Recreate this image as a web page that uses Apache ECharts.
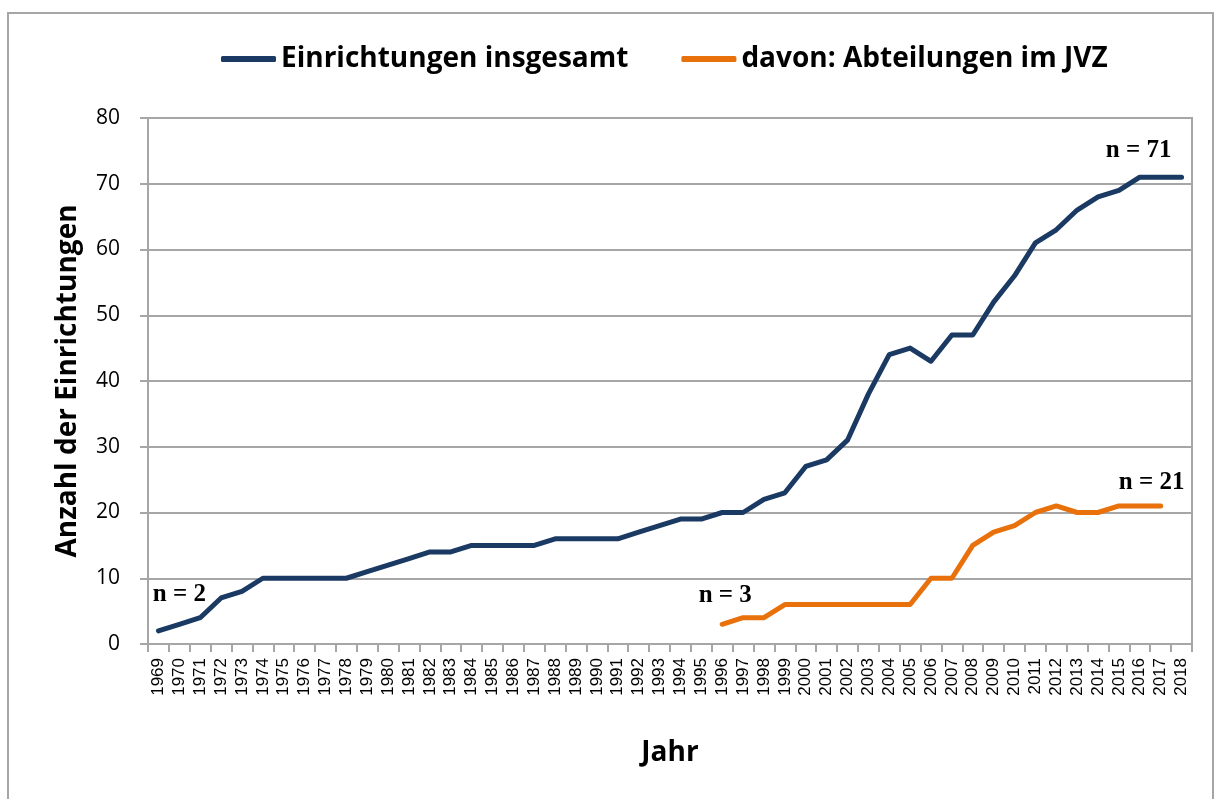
<!DOCTYPE html>
<html lang="de">
<head>
	<meta charset="UTF-8">
	<title>Einrichtungen</title>
	<style>
	body, div {
		margin: 0;
		padding: 0;
	}
	#echart {
		width: 1215px;
		height: 799px;
	}
	</style>
</head>
<body>
	<div id="echart"></div>

	<script src="https://cdn.jsdelivr.net/npm/echarts@6/dist/echarts.min.js"></script>

	<script>
	// Daten
	var years = [];
	for (var y = 1969; y <= 2018; y++) years.push(String(y));

	var gesamt = [
		2, 3, 4, 7, 8, 10, 10, 10, 10, 10,
		11, 12, 13, 14, 14, 15, 15, 15, 15, 16,
		16, 16, 16, 17, 18, 19, 19, 20, 20, 22,
		23, 27, 28, 31, 38, 44, 45, 43, 47, 47,
		52, 56, 61, 63, 66, 68, 69, 71, 71, 71
	];
	var jvz = [
		null, null, null, null, null, null, null, null, null, null,
		null, null, null, null, null, null, null, null, null, null,
		null, null, null, null, null, null, null, 3, 4, 4,
		6, 6, 6, 6, 6, 6, 6, 10, 10, 15,
		17, 18, 20, 21, 20, 20, 21, 21, 21, null
	];
	var seriesNames = ['Einrichtungen insgesamt', 'davon: Abteilungen im JVZ'];
	var yTicks = [0, 80, 10];

	var blue = '#1b3a63';
	var orange = '#e8710b';
	var boldSans = {
		fontFamily: 'Open Sans',
		fontWeight: 'bold',
		fontSize: 28,
		color: '#000'
	};
	var nStyle = {
		fontFamily: 'Liberation Serif',
		fontWeight: 'bold',
		fontSize: 25,
		color: '#000'
	};

	// Beschriftung "n = ..." an einem Datenpunkt
	function nLabel(coord, text, offset) {
		return {
			coord: coord,
			symbol: 'circle',
			symbolSize: 0,
			label: Object.assign({
				show: true,
				position: 'inside',
				offset: offset,
				formatter: text
			}, nStyle)
		};
	}

	var myEchart = echarts.init(document.getElementById('echart'));

	var option = {
		animation: false,
		graphic: [{
			type: 'rect',
			shape: { x: 8, y: 13, width: 1205, height: 800 },
			style: { fill: 'none', stroke: '#a6a6a6', lineWidth: 2 }
		}],
		legend: {
			top: 40,
			left: 216,
			itemWidth: 55,
			itemHeight: 6,
			itemGap: 53,
			icon: 'roundRect',
			textStyle: boldSans,
			data: seriesNames
		},
		grid: {
			left: 148,
			right: 23,
			top: 118,
			height: 526,
			containLabel: false,
			show: true,
			borderColor: '#a6a6a6',
			borderWidth: 2
		},
		xAxis: {
			type: 'category',
			data: years,
			boundaryGap: true,
			name: 'Jahr',
			nameLocation: 'middle',
			nameGap: 95,
			nameTextStyle: boldSans,
			axisLine: { lineStyle: { color: '#a6a6a6', width: 2 } },
			axisTick: { show: true, length: 8, lineStyle: { color: '#a6a6a6', width: 2 } },
			axisLabel: {
				interval: 0,
				rotate: 90,
				margin: 14,
				fontFamily: 'Liberation Sans',
				fontSize: 17,
				color: '#000'
			}
		},
		yAxis: {
			type: 'value',
			min: yTicks[0],
			max: yTicks[1],
			interval: yTicks[2],
			name: 'Anzahl der Einrichtungen',
			nameLocation: 'middle',
			nameGap: 66,
			nameTextStyle: boldSans,
			axisLine: { show: true, lineStyle: { color: '#a6a6a6', width: 2 } },
			axisTick: { show: true, inside: false, length: 8, lineStyle: { color: '#a6a6a6', width: 2 } },
			splitLine: { lineStyle: { color: '#a6a6a6', width: 2 } },
			axisLabel: {
				margin: 28,
				fontFamily: 'Open Sans',
				fontSize: 21,
				color: '#000'
			}
		},
		series: [
			{
				name: seriesNames[0],
				type: 'line',
				data: gesamt,
				symbol: 'none',
				color: blue,
				lineStyle: { width: 5, color: blue, cap: 'round', join: 'round' },
				markPoint: {
					data: [
						nLabel([years[0], gesamt[0]], 'n = 2', [21, -36]),
						nLabel([years[49], gesamt[49]], 'n = 71', [-43, -27])
					]
				}
			},
			{
				name: seriesNames[1],
				type: 'line',
				data: jvz,
				symbol: 'none',
				color: orange,
				lineStyle: { width: 5, color: orange, cap: 'round', join: 'round' },
				markPoint: {
					data: [
						nLabel([years[27], jvz[27]], 'n = 3', [3, -29]),
						nLabel([years[48], jvz[48]], 'n = 21', [-9, -23])
					]
				}
			}
		]
	};

	myEchart.setOption(option);
	</script>
</body>
</html>
